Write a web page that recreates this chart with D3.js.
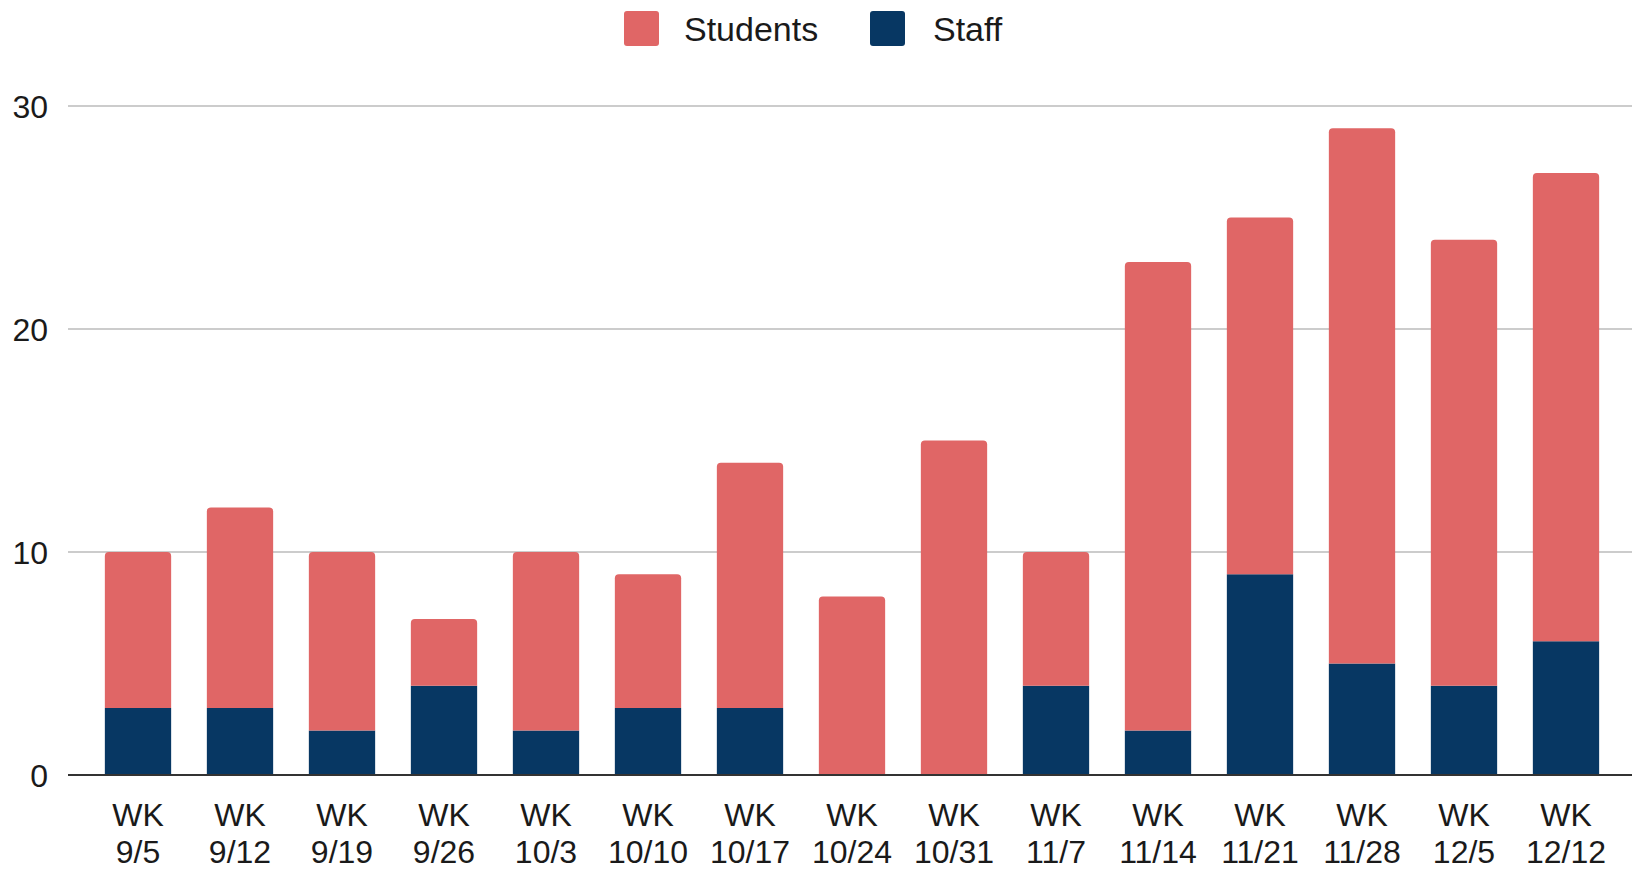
<!DOCTYPE html>
<html>
<head>
<meta charset="utf-8">
<script src="https://cdn.jsdelivr.net/npm/d3@7/dist/d3.min.js"></script>
<style>
  html, body { margin: 0; padding: 0; background: #fff; }
  svg { display: block; font-family: "Liberation Sans", Arial, sans-serif; }
</style>
</head>
<body>
<svg id="chart" width="1632" height="870"></svg>
<script>
const weeks = ['9/5', '9/12', '9/19', '9/26', '10/3', '10/10', '10/17', '10/24', '10/31', '11/7', '11/14', '11/21', '11/28', '12/5', '12/12']
const staff = [3, 3, 2, 4, 2, 3, 3, 0, 0, 4, 2, 9, 5, 4, 6]
const students = [7, 9, 8, 3, 8, 6, 11, 8, 15, 6, 21, 16, 24, 20, 21]
const yTicks = [0, 10, 20, 30]
const seriesNames = ['Students', 'Staff']
const colors = { Students: '#e06666', Staff: '#073763' }

const svg = d3.select('#chart')
const width = 1632

const rows = weeks.map((w, i) => ({ week: w, Staff: staff[i], Students: students[i] }))
// staff at the bottom, students stacked on top
const stack = d3.stack().keys(['Staff', 'Students'])(rows)

const x = d3.scaleBand()
  .domain(weeks)
  .range([87, 1617])
  .paddingInner(0.35)
  .paddingOuter(0.175)

const y = d3.scaleLinear().domain([0, 30]).range([775, 106])

// gridlines
svg.append('g')
  .selectAll('line')
  .data(yTicks.filter(d => d !== 0))
  .join('line')
  .attr('x1', 68).attr('x2', width)
  .attr('y1', d => y(d)).attr('y2', d => y(d))
  .attr('stroke', '#cccccc')
  .attr('stroke-width', 2)

// y labels
svg.append('g')
  .selectAll('text')
  .data(yTicks)
  .join('text')
  .attr('x', 48)
  .attr('y', d => y(d))
  .attr('dy', '0.36em')
  .attr('text-anchor', 'end')
  .attr('font-size', 32)
  .attr('fill', '#1a1a1a')
  .text(d => d)

// top-rounded bar path
const barPath = (x0, y0, w, h, r) => {
  if (h <= 0) return ''
  r = Math.min(r, h, w / 2)
  return `M${x0},${y0 + h}V${y0 + r}Q${x0},${y0} ${x0 + r},${y0}H${x0 + w - r}Q${x0 + w},${y0} ${x0 + w},${y0 + r}V${y0 + h}Z`
}

const topIndex = weeks.map((w, i) => rows[i].Students > 0 ? 'Students' : 'Staff')

svg.append('g')
  .selectAll('g')
  .data(stack)
  .join('g')
  .attr('fill', d => colors[d.key])
  .each(function (s) {
    d3.select(this).selectAll('path')
      .data(s.map((d, i) => ({ d, i, key: s.key })))
      .join('path')
      .attr('d', ({ d, i, key }) => {
        const x0 = x(weeks[i])
        const yt = y(d[1])
        const h = y(d[0]) - y(d[1])
        const r = topIndex[i] === key ? 4 : 0
        return barPath(x0, yt, x.bandwidth(), h, r)
      })
  })

// zero line
svg.append('line')
  .attr('x1', 68).attr('x2', width)
  .attr('y1', y(0)).attr('y2', y(0))
  .attr('stroke', '#333')
  .attr('stroke-width', 2)

// x labels (two lines)
const xl = svg.append('g')
  .selectAll('text')
  .data(weeks)
  .join('text')
  .attr('text-anchor', 'middle')
  .attr('font-size', 32)
  .attr('fill', '#1a1a1a')
xl.append('tspan')
  .attr('x', d => x(d) + x.bandwidth() / 2)
  .attr('y', 826)
  .text('WK')
xl.append('tspan')
  .attr('x', d => x(d) + x.bandwidth() / 2)
  .attr('y', 863)
  .text(d => d)

// legend
const legendX = [624, 870]
const legend = svg.append('g')
  .selectAll('g')
  .data(seriesNames)
  .join('g')
  .attr('transform', (d, i) => `translate(${legendX[i]},11)`)
legend.append('rect')
  .attr('width', 35).attr('height', 35)
  .attr('rx', 3)
  .attr('fill', d => colors[d])
legend.append('text')
  .attr('x', d => d === 'Students' ? 60 : 63)
  .attr('y', 30)
  .attr('font-size', 34)
  .attr('fill', '#1a1a1a')
  .text(d => d)
</script>
</body>
</html>
